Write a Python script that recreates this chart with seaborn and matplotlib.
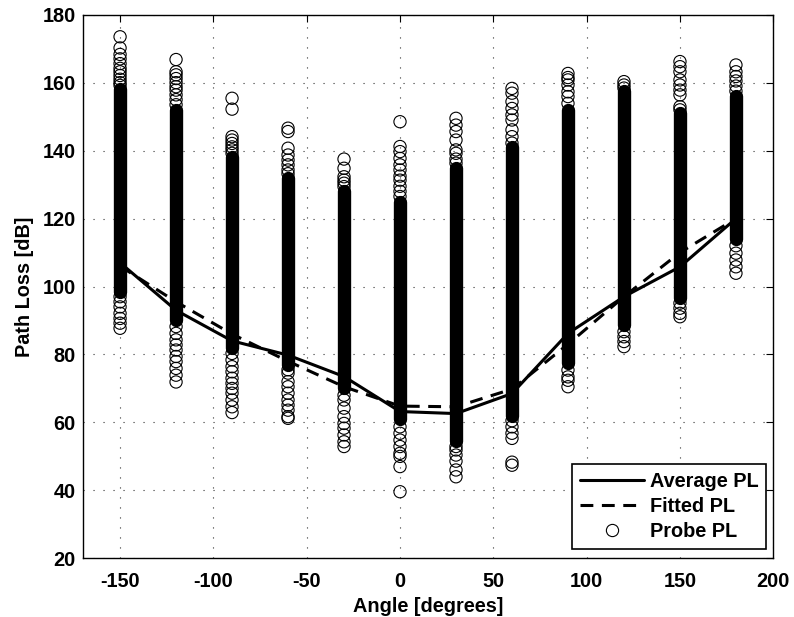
import numpy as np
import pandas as pd
import matplotlib
matplotlib.use("Agg")
import matplotlib.pyplot as plt
from matplotlib.lines import Line2D
import seaborn as sns

# Probe angles [degrees]
angles = [-150, -120, -90, -60, -30, 0, 30, 60, 90, 120, 150, 180]

# Mean path loss per angle and the fitted model [dB]
avg_pl = [107.0, 93.0, 84.0, 79.8, 73.5, 63.2, 62.6, 68.5, 86.2, 97.0, 105.8, 120.0]
fit_pl = [106.0, 95.5, 86.0, 78.0, 70.5, 64.8, 64.6, 69.8, 83.0, 97.0, 110.0, 120.0]

# Densely populated span of probe readings per angle [dB]
dense_low = [98.5, 90.0, 82.0, 77.0, 70.0, 61.0, 54.5, 62.0, 77.5, 88.7, 96.5, 114.0]
dense_high = [158.0, 152.0, 138.0, 132.0, 128.0, 125.0, 135.0, 141.0, 152.0, 157.5, 151.0, 156.0]

# Individually resolved probe readings outside the dense span [dB]
probe_m150 = [173.5, 170.2, 168.3, 167.0, 165.6, 164.2, 163.2, 162.1, 161.0, 160.0, 159.2,
              97.0, 95.5, 94.0, 92.1, 90.6, 89.2, 87.7]
probe_m120 = [166.8, 163.2, 162.3, 161.2, 160.0, 158.8, 157.8, 156.4, 155.0, 153.5,
              88.2, 86.2, 84.3, 82.8, 81.3, 79.4, 77.9, 75.9, 73.9, 71.9]
probe_m90 = [155.4, 152.2, 144.1, 143.1, 142.1, 141.1, 140.2, 139.2,
             80.3, 78.4, 76.4, 74.9, 73.0, 71.5, 70.0, 68.6, 66.6, 64.6, 62.9]
probe_m60 = [146.6, 145.6, 140.7, 138.7, 137.2, 135.8, 134.3, 133.2,
             75.5, 74.5, 72.0, 70.5, 68.6, 66.6, 65.1, 63.6, 61.7, 61.2]
probe_m30 = [137.5, 134.8, 132.3, 131.3, 130.4, 129.4,
             68.0, 66.6, 64.2, 61.7, 59.7, 58.3, 56.3, 54.3, 52.9]
probe_0 = [148.5, 141.2, 139.7, 137.7, 135.8, 134.3, 132.5, 131.3, 129.5, 128.0, 126.5,
           58.7, 56.8, 54.8, 52.9, 50.9, 50.0, 47.0, 39.6]
probe_30 = [149.5, 147.5, 145.6, 143.1, 140.2, 139.2, 137.5, 136.3,
            52.9, 51.9, 50.4, 48.6, 46.0, 44.0]
probe_60 = [158.3, 156.9, 154.4, 152.4, 150.5, 149.0, 146.1, 144.1, 142.2,
            60.5, 58.7, 56.8, 55.3, 48.3, 47.4]
probe_90 = [162.7, 161.5, 160.8, 159.3, 157.3, 155.9, 153.9,
            75.4, 73.4, 72.4, 70.5]
probe_120 = [160.3, 159.3, 158.4,
             86.7, 85.2, 83.8, 82.3]
probe_150 = [166.2, 164.7, 163.2, 160.8, 159.3, 157.8, 156.4, 152.9, 152.0,
             95.1, 93.6, 92.1, 91.1]
probe_180 = [165.2, 163.2, 161.8, 160.5, 159.0, 157.5,
             112.0, 109.8, 107.8, 105.8, 103.9]

probe_sets = [probe_m150, probe_m120, probe_m90, probe_m60, probe_m30, probe_0,
              probe_30, probe_60, probe_90, probe_120, probe_150, probe_180]

x_ticks = [-150, -100, -50, 0, 50, 100, 150, 200]
y_ticks = [20, 40, 60, 80, 100, 120, 140, 160, 180]

sns.set_style("white")
plt.rcParams["font.family"] = ["Liberation Sans", "DejaVu Sans"]
plt.rcParams["font.weight"] = "bold"
plt.rcParams["axes.labelweight"] = "bold"
plt.rcParams["axes.unicode_minus"] = False
plt.rcParams["text.color"] = "black"
plt.rcParams["axes.labelcolor"] = "black"
plt.rcParams["xtick.color"] = "black"
plt.rcParams["ytick.color"] = "black"

FS = 14.3

probes = pd.DataFrame({
    "angle": np.concatenate([[a] * len(v) for a, v in zip(angles, probe_sets)]),
    "pl": np.concatenate(probe_sets),
})
curves = pd.DataFrame({"angle": angles, "avg": avg_pl, "fit": fit_pl})

fig, ax = plt.subplots(figsize=(7.94, 6.17), dpi=100)
fig.subplots_adjust(left=0.1042, right=0.9739, top=0.9762, bottom=0.0951)

marker_d = 8.8     # marker diameter in points
ring_lw = 0.8

# Dense probe clouds: overlapping rings merge into solid columns
ax.vlines(angles, dense_low, dense_high, colors="black",
          linewidth=marker_d + ring_lw, capstyle="round", zorder=2)

sns.scatterplot(data=probes, x="angle", y="pl", ax=ax, marker="o",
                s=marker_d ** 2, facecolors="none", edgecolor="black",
                linewidth=ring_lw, zorder=3, legend=False)

sns.lineplot(data=curves, x="angle", y="avg", ax=ax, color="black",
             linewidth=2.2, zorder=4, legend=False)
sns.lineplot(data=curves, x="angle", y="fit", ax=ax, color="black",
             linewidth=2.2, dashes=False, zorder=4, legend=False)
ax.lines[-1].set_dashes((4.2, 2.8))

ax.set_xlim(-170, 200)
ax.set_ylim(20, 180)
ax.set_xticks(x_ticks)
ax.set_yticks(y_ticks)
ax.set_xlabel("Angle [degrees]", fontsize=FS, fontweight="bold", labelpad=4, color="black")
ax.set_ylabel("Path Loss [dB]", fontsize=FS, fontweight="bold", labelpad=6, color="black")

ax.tick_params(axis="both", which="major", direction="in", length=5, width=0.8,
               top=True, right=True, labelsize=FS, colors="black")
ax.tick_params(axis="x", pad=10)
ax.tick_params(axis="y", pad=5)
for lbl in ax.get_xticklabels() + ax.get_yticklabels():
    lbl.set_fontweight("bold")

ax.grid(True, color="0.2", linestyle=(0, (1, 8)), linewidth=0.8)
ax.set_axisbelow(True)
for sp in ax.spines.values():
    sp.set_visible(True)
    sp.set_color("black")
    sp.set_linewidth(1.0)

handles = [
    Line2D([], [], color="black", linewidth=2.2),
    Line2D([], [], color="black", linewidth=2.2, dashes=(4.2, 2.8)),
    Line2D([], [], color="black", linestyle="none", marker="o",
           markersize=marker_d, markerfacecolor="none", markeredgewidth=ring_lw),
]
leg = ax.legend(handles, ["Average PL", "Fitted PL", "Probe PL"],
                loc="lower right", bbox_to_anchor=(0.99, 0.017),
                prop={"family": ["Liberation Sans"], "weight": "bold", "size": FS},
                frameon=True, fancybox=False, framealpha=1, edgecolor="black",
                handlelength=3.2, handletextpad=0.3, labelspacing=0.3,
                borderpad=0.4, borderaxespad=0.0)
leg.get_frame().set_linewidth(1.2)
for txt in leg.get_texts():
    txt.set_color("black")

fig.savefig("out.png", dpi=100)
